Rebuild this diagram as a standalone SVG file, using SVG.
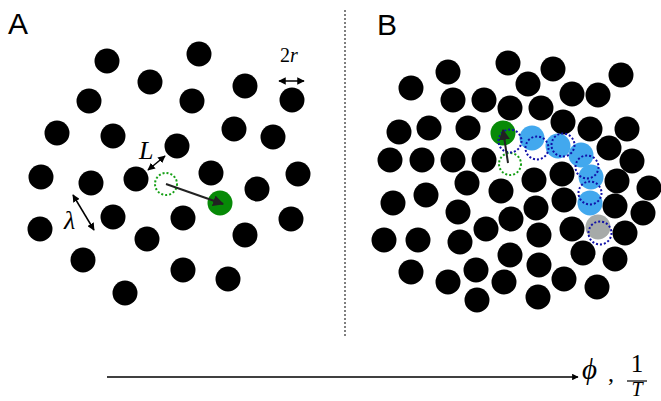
<svg xmlns="http://www.w3.org/2000/svg" width="661" height="401" viewBox="0 0 661 401">
<style>
.p{fill:#000}
.g{fill:#078a07}
.b{fill:#42a8ee}
.gr{fill:#a6aaa8}
.dg{fill:none;stroke:#16a016;stroke-width:2;stroke-dasharray:2 2}
.dn{fill:none;stroke:#1010a8;stroke-width:2;stroke-dasharray:2 2}
.lbl{font-family:"Liberation Sans",Arial,sans-serif;font-size:30px;fill:#000}
.m{font-family:"Liberation Serif","Times New Roman",serif;fill:#000}
.ar{stroke:#222;stroke-width:2;fill:none}
.thin{stroke:#000;stroke-width:1.5;fill:none}
</style>
<defs>
<marker id="ah" viewBox="0 0 10 10" refX="9" refY="5" markerWidth="5.5" markerHeight="5.5" orient="auto-start-reverse" markerUnits="strokeWidth">
<path d="M0,0 L10,5 L0,10 Z" fill="#222"/>
</marker>
<marker id="sh" viewBox="0 0 10 10" refX="9" refY="5" markerWidth="5" markerHeight="5" orient="auto-start-reverse" markerUnits="strokeWidth">
<path d="M0,0 L10,5 L0,10 Z" fill="#000"/>
</marker>
</defs>
<rect width="661" height="401" fill="#fff"/>
<text class="lbl" x="8" y="34">A</text>
<text class="lbl" x="377" y="35">B</text>
<line x1="345" y1="10" x2="345" y2="338" stroke="#555" stroke-width="1.5" stroke-dasharray="2 2"/>
<g id="panelA">
<g id="particlesA" class="p">
<circle cx="107" cy="61" r="12.5"/><circle cx="199" cy="54" r="12.5"/><circle cx="150" cy="82" r="12.5"/>
<circle cx="245" cy="86" r="12.5"/><circle cx="89" cy="101" r="12.5"/><circle cx="192" cy="101" r="12.5"/>
<circle cx="292" cy="100" r="12.5"/><circle cx="57" cy="133" r="12.5"/><circle cx="113" cy="136" r="12.5"/>
<circle cx="234" cy="129" r="12.5"/><circle cx="273" cy="137" r="12.5"/><circle cx="177" cy="146" r="12.5"/>
<circle cx="41" cy="177" r="12.5"/><circle cx="91" cy="183" r="12.5"/><circle cx="136" cy="179" r="12.5"/>
<circle cx="211" cy="173" r="12.5"/><circle cx="298" cy="174" r="12.5"/><circle cx="257" cy="189" r="12.5"/>
<circle cx="113" cy="217" r="12.5"/><circle cx="183" cy="218" r="12.5"/><circle cx="40" cy="229" r="12.5"/>
<circle cx="147" cy="239" r="12.5"/><circle cx="245" cy="235" r="12.5"/><circle cx="291" cy="219" r="12.5"/>
<circle cx="83" cy="260" r="12.5"/><circle cx="183" cy="270" r="12.5"/><circle cx="228" cy="279" r="12.5"/>
<circle cx="125" cy="293" r="12.5"/>
</g>
<g id="greenA">
<circle class="g" cx="220" cy="203" r="12.5"/>
<circle class="dg" cx="166" cy="184" r="11"/>
</g>
</g>
<g id="panelB">
<g id="particlesB" class="p">
<circle cx="508" cy="63" r="12.5"/><circle cx="448" cy="72" r="12.5"/><circle cx="553" cy="69" r="12.5"/>
<circle cx="621" cy="75" r="12.5"/><circle cx="411" cy="88" r="12.5"/><circle cx="528" cy="84" r="12.5"/>
<circle cx="572" cy="94" r="12.5"/><circle cx="598" cy="95" r="12.5"/><circle cx="453" cy="100" r="12.5"/>
<circle cx="484" cy="100" r="12.5"/><circle cx="510" cy="108" r="12.5"/><circle cx="541" cy="108" r="12.5"/>
<circle cx="563" cy="122" r="12.5"/><circle cx="399" cy="132" r="12.5"/><circle cx="429" cy="128" r="12.5"/>
<circle cx="468" cy="128" r="12.5"/><circle cx="590" cy="129" r="12.5"/><circle cx="627" cy="129" r="12.5"/>
<circle cx="609" cy="148" r="12.5"/><circle cx="390" cy="160" r="12.5"/><circle cx="422" cy="160" r="12.5"/>
<circle cx="453" cy="160" r="12.5"/><circle cx="484" cy="160" r="12.5"/><circle cx="632" cy="161" r="12.5"/>
<circle cx="467" cy="183" r="12.5"/><circle cx="501" cy="191" r="12.5"/><circle cx="534" cy="180" r="12.5"/>
<circle cx="562" cy="174" r="12.5"/><circle cx="617" cy="181" r="12.5"/><circle cx="649" cy="188" r="12.5"/>
<circle cx="393" cy="203" r="12.5"/><circle cx="426" cy="195" r="12.5"/><circle cx="458" cy="212" r="12.5"/>
<circle cx="511" cy="219" r="12.5"/><circle cx="536" cy="208" r="12.5"/><circle cx="564" cy="200" r="12.5"/>
<circle cx="615" cy="206" r="12.5"/><circle cx="643" cy="213" r="12.5"/><circle cx="486" cy="229" r="12.5"/>
<circle cx="572" cy="229" r="12.5"/><circle cx="625" cy="233" r="12.5"/><circle cx="539" cy="235" r="12.5"/>
<circle cx="384" cy="240" r="12.5"/><circle cx="418" cy="240" r="12.5"/><circle cx="460" cy="242" r="12.5"/>
<circle cx="510" cy="255" r="12.5"/><circle cx="583" cy="253" r="12.5"/><circle cx="615" cy="259" r="12.5"/>
<circle cx="539" cy="265" r="12.5"/><circle cx="411" cy="272" r="12.5"/><circle cx="476" cy="270" r="12.5"/>
<circle cx="448" cy="282" r="12.5"/><circle cx="504" cy="282" r="12.5"/><circle cx="564" cy="279" r="12.5"/>
<circle cx="597" cy="287" r="12.5"/><circle cx="477" cy="300" r="12.5"/><circle cx="538" cy="297" r="12.5"/>
</g>
<g id="chainB">
<circle class="g" cx="503" cy="133" r="12.5"/>
<circle class="b" cx="532" cy="138" r="12.5"/>
<circle class="b" cx="558" cy="146" r="12.5"/>
<circle class="b" cx="581" cy="155" r="12.5"/>
<circle class="b" cx="591" cy="177" r="12.5"/>
<circle class="b" cx="590" cy="203" r="12.5"/>
<circle class="gr" cx="598" cy="227" r="12.5"/>
<circle class="dg" cx="510" cy="164" r="11"/>
<circle class="dn" cx="510" cy="141" r="11.5"/>
<circle class="dn" cx="537" cy="148" r="11.5"/>
<circle class="dn" cx="563" cy="145" r="11.5"/>
<circle class="dn" cx="587" cy="167" r="11.5"/>
<circle class="dn" cx="590" cy="193" r="11.5"/>
<circle class="dn" cx="600" cy="233" r="11.5"/>
</g>
</g>
<g id="connectors">
<line class="ar" x1="166" y1="184" x2="223" y2="204" marker-end="url(#ah)"/>
<line class="ar" x1="508" y1="163" x2="503" y2="130" marker-end="url(#ah)"/>
<line class="thin" x1="148" y1="170" x2="165" y2="156" marker-start="url(#sh)" marker-end="url(#sh)"/>
<line class="thin" x1="73" y1="195" x2="94" y2="230" marker-start="url(#sh)" marker-end="url(#sh)"/>
<line class="thin" x1="279" y1="81" x2="304" y2="81" marker-start="url(#sh)" marker-end="url(#sh)"/>
<line x1="107" y1="377" x2="578" y2="377" stroke="#000" stroke-width="1.3" marker-end="url(#sh)"/>
</g>
<g id="labels">
<text class="m" x="139" y="159" font-size="26" font-style="italic">L</text>
<text class="m" x="64" y="229" font-size="26" font-style="italic">λ</text>
<text class="m" x="280" y="62" font-size="20">2<tspan font-style="italic">r</tspan></text>
<text class="m" x="582" y="379" font-size="29" font-style="italic">ϕ</text>
<text class="m" x="608" y="381" font-size="24">,</text>
<text class="m" x="637" y="372" font-size="25" text-anchor="middle">1</text>
<line x1="627" y1="381" x2="647" y2="381" stroke="#000" stroke-width="1.2"/>
<text class="m" x="637" y="396" font-size="20" font-style="italic" text-anchor="middle">T</text>
</g>
</svg>
